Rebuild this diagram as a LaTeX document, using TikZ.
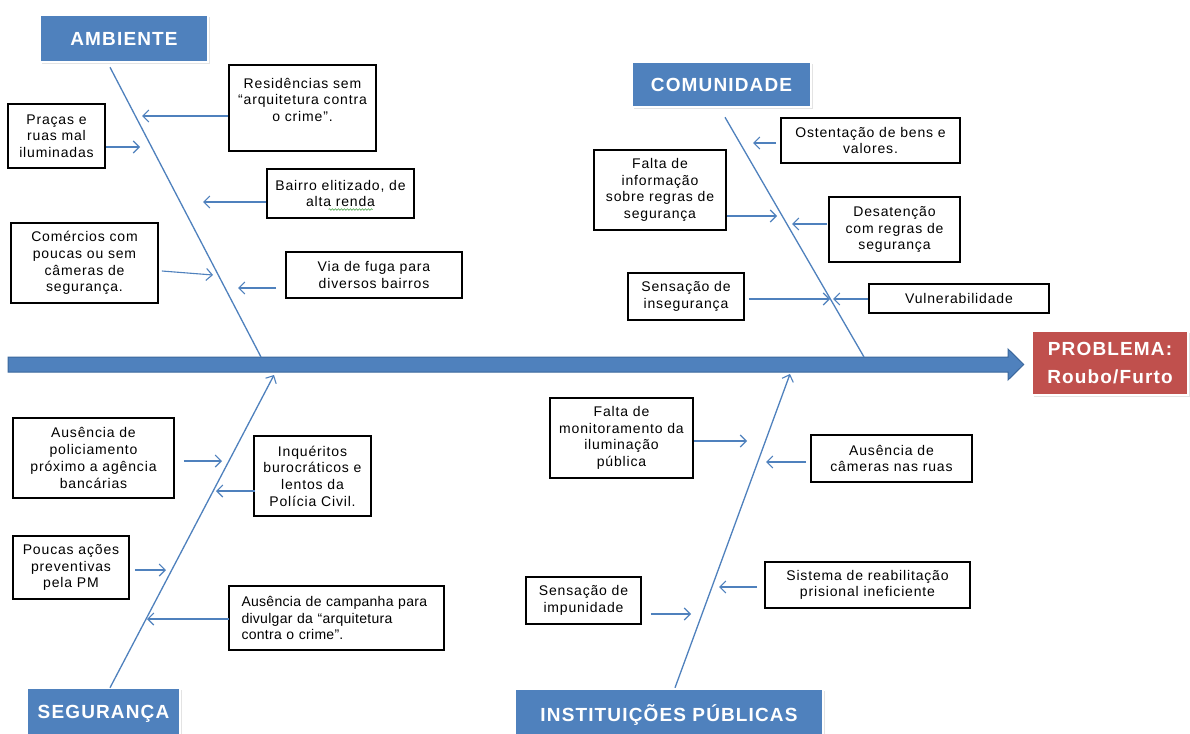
\documentclass[tikz,border=0pt]{standalone}
\usepackage{fontspec}
\setmainfont{Liberation Sans}[LetterSpace=6]
\newfontfamily\headfont{Liberation Sans}[LetterSpace=6]
\newfontfamily\narrowfont{Liberation Sans}[LetterSpace=2]
\usetikzlibrary{arrows.meta,shadows,calc,decorations.pathmorphing}
\definecolor{bone}{HTML}{4F81BD}
\definecolor{spineedge}{HTML}{3A679C}
\definecolor{probred}{HTML}{C0504D}
\definecolor{spell}{HTML}{4CA64C}

\begin{document}
\begin{tikzpicture}[x=1pt,y=-1pt,
  sz/.style 2 args={minimum width=#1pt, minimum height=#2pt},
  cause/.style={draw=black, line width=1.8pt, fill=white, inner sep=0pt,
    align=center, font=\fontsize{14}{16.7}\selectfont},
  category/.style={fill=bone, draw=white, line width=2.5pt, text=white,
    inner sep=0pt, font=\headfont\bfseries\fontsize{19}{21}\selectfont,
    drop shadow={opacity=0.22, shadow xshift=1.5pt, shadow yshift=-2pt}},
  effect/.style={category, fill=probred, align=center,
    font=\headfont\bfseries\fontsize{19}{28.8}\selectfont},
  tip/.style={draw=bone, line width=1.1pt,
    -{Straight Barb[length=6pt,width=12pt,line width=1.1pt]}},
  bonel/.style={draw=bone, line width=1.3pt},
]
\useasboundingbox (0,0) rectangle (1190,733);
\clip (0,0) rectangle (1190,733);
\fill[white] (0,0) rectangle (1190,733);

% effect box and main spine
\node[effect, sz={156}{64}] (prob) at (1110,363) {PROBLEMA:\\Roubo/Furto};
\fill[bone, draw=spineedge, line width=1pt]
  (8,357) -- (1008,357) -- (1008,349) -- ($(prob.west)+(-7,1.5)$)
  -- (1008,380) -- (1008,372) -- (8,372) -- cycle;

% category boxes
\node[category, sz={168}{47}] (amb) at (124,38.5) {AMBIENTE};
\node[category, sz={179}{45}] (comu) at (721.5,84.5) {COMUNIDADE};
\node[category, sz={153}{52}] (seg) at (103.5,714) {SEGURANÇA};
\node[category, sz={308}{52}] (inst) at (669,715) {INSTITUIÇÕES PÚBLICAS};

% feet of the bones on the spine
\coordinate (ambfoot) at (261,357);
\coordinate (comufoot) at (864,357);
\coordinate (segfoot) at (274,375);
\coordinate (instfoot) at (790,374);

\draw[bonel] ($(amb.south)+(-14,4)$) -- (ambfoot);
\draw[bonel] ($(comu.south)+(3.5,9)$) -- (comufoot);
\draw[bonel, -{Straight Barb[length=6pt,width=12pt,line width=1.1pt]}]
  ($(seg.north)+(6.5,1)$) -- (segfoot);
\draw[bonel, -{Straight Barb[length=6pt,width=12pt,line width=1.1pt]}]
  ($(inst.north)+(6,0)$) -- (instfoot);

% AMBIENTE causes
\node[cause, sz={147}{86}] (res) at (302.5,108)
  {Residências sem\\“arquitetura contra\\o crime”.\\\mbox{}};
\node[cause, sz={97}{64}] (pra) at (56.5,136) {Praças e\\ruas mal\\iluminadas};
\node[cause, sz={147}{49}] (bai) at (340.5,193.5) {Bairro elitizado, de\\alta renda};
\node[cause, sz={147}{80}] (com) at (84.5,263)
  {Comércios com\\poucas ou sem\\câmeras de\\segurança.};
\node[cause, sz={176}{46}] (via) at (374,275) {Via de fuga para\\diversos bairros};

% spelling underline below "renda"
\draw[spell, line width=0.6pt, decorate,
  decoration={snake, amplitude=0.8pt, segment length=3pt}]
  ($(bai.center)+(-12,16)$) -- ($(bai.center)+(32,16)$);

% COMUNIDADE causes
\node[cause, sz={179}{45}] (ost) at (870.5,140.5) {Ostentação de bens e\\valores.};
\node[cause, sz={132}{80}] (fal) at (660,190)
  {Falta de\\informação\\sobre regras de\\segurança};
\node[cause, sz={131}{65}] (des) at (894.5,229.5) {Desatenção\\com regras de\\segurança};
\node[cause, sz={116}{47}] (sen) at (686,296.5) {Sensação de\\insegurança};
\node[cause, sz={180}{29}] (vul) at (959,298.5) {Vulnerabilidade};

% SEGURANÇA causes
\node[cause, sz={161}{80}] (aus) at (93.5,458)
  {Ausência de\\policiamento\\próximo a agência\\bancárias};
\node[cause, sz={117}{80}] (inq) at (312.5,476)
  {Inquéritos\\burocráticos e\\lentos da\\Polícia Civil.};
\node[cause, sz={116}{63}] (pou) at (71,567.5) {Poucas ações\\preventivas\\pela PM};
\node[cause, sz={215}{64}, align=left, text width=190pt, inner xsep=12.5pt,
  font=\narrowfont\fontsize{14}{16.2}\selectfont] (cam) at (336.5,618)
  {Ausência de campanha para\\divulgar da “arquitetura\\contra o crime”.};

% INSTITUIÇÕES PÚBLICAS causes
\node[cause, sz={143}{80}] (mon) at (621.5,438)
  {Falta de\\monitoramento da\\iluminação\\pública};
\node[cause, sz={161}{47}] (cmr) at (891.5,458.5) {Ausência de\\câmeras nas ruas};
\node[cause, sz={205}{46}] (sis) at (867.5,585)
  {Sistema de reabilitação\\prisional ineficiente};
\node[cause, sz={115}{47}] (imp) at (583.5,600.5) {Sensação de\\impunidade};

% arrow tips near the bones
\coordinate (tres) at (142,116);
\coordinate (tpra) at (140,147);
\coordinate (tbai) at (203,202);
\coordinate (tcom) at (213,275);
\coordinate (tvia) at (238,288);
\coordinate (tost) at (753,143);
\coordinate (tfal) at (777,216);
\coordinate (tdes) at (792,224);
\coordinate (tsen) at (830,299);
\coordinate (tvul) at (833,299);
\coordinate (taus) at (222,461);
\coordinate (tinq) at (216,491);
\coordinate (tpou) at (166,570);
\coordinate (tcam) at (147,619);
\coordinate (tmon) at (747,441);
\coordinate (tcmr) at (766,462);
\coordinate (tsis) at (719,587);
\coordinate (timp) at (691,614);

\draw[tip] ($(res.west)+(0,8)$) -- (tres);
\draw[tip] ($(pra.east)+(0,11)$) -- (tpra);
\draw[tip] ($(bai.west)+(0,8.5)$) -- (tbai);
\draw[tip] ($(com.east)+(3,8)$) -- (tcom);
\draw[tip] ($(via.west)+(-9,13)$) -- (tvia);
\draw[tip] ($(ost.west)+(-4,2.5)$) -- (tost);
\draw[tip] ($(fal.east)+(0,26)$) -- (tfal);
\draw[tip] ($(des.west)+(-1,-5.5)$) -- (tdes);
\draw[tip] ($(sen.east)+(4,2.5)$) -- (tsen);
\draw[tip] ($(vul.west)+(0,0.5)$) -- (tvul);
\draw[tip] ($(aus.east)+(9,3)$) -- (taus);
\draw[tip] ($(inq.west)+(2,15)$) -- (tinq);
\draw[tip] ($(pou.east)+(5,2.5)$) -- (tpou);
\draw[tip] ($(cam.west)+(1,1)$) -- (tcam);
\draw[tip] ($(mon.east)+(0,3)$) -- (tmon);
\draw[tip] ($(cmr.west)+(-4,3.5)$) -- (tcmr);
\draw[tip] ($(sis.west)+(-7,2)$) -- (tsis);
\draw[tip] ($(imp.east)+(9,13.5)$) -- (timp);
\end{tikzpicture}
\end{document}
